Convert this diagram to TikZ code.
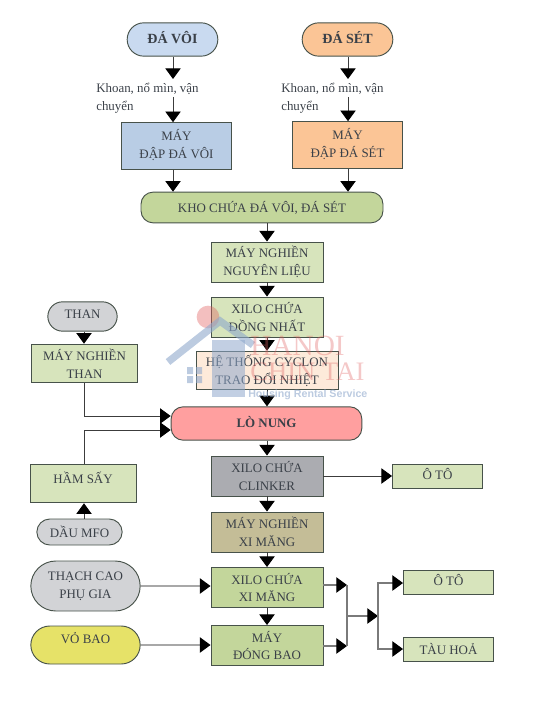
\documentclass[tikz,border=0pt]{standalone}
\usepackage{fontspec}
\setmainfont{Liberation Serif}
\newfontfamily\wmsans{Liberation Sans}
\usetikzlibrary{calc,positioning,arrows.meta,shapes.misc}
\definecolor{txt}{HTML}{3A4048}
\definecolor{edgecol}{HTML}{47524A}
\definecolor{lineco}{HTML}{3C3C3C}
\definecolor{linegrey}{HTML}{7A7A7A}
\definecolor{bluepale}{HTML}{C9DAF0}
\definecolor{bluebox}{HTML}{B9CDE5}
\definecolor{orangebox}{HTML}{FBC596}
\definecolor{greenbox}{HTML}{C3D69B}
\definecolor{greenpale}{HTML}{D7E4BC}
\definecolor{peachbox}{HTML}{FDEADA}
\definecolor{redbox}{HTML}{FF9F9F}
\definecolor{greybox}{HTML}{D2D3D6}
\definecolor{clinkerbox}{HTML}{ABACB1}
\definecolor{brownbox}{HTML}{C4BD97}
\definecolor{yellowbox}{HTML}{E6E268}
\definecolor{wmblue}{HTML}{8FA8CC}
\definecolor{wmred}{HTML}{E06060}
\begin{document}
\begin{tikzpicture}[x=0.75pt,y=-0.75pt,>={Triangle[length=8pt,width=11.5pt,color=black]},
  every node/.style={font=\fontsize{9.7}{13.3}\selectfont,text=txt},
  rect/.style={rectangle,draw=edgecol,line width=0.7pt,align=center,inner sep=0pt},
  pill/.style={rectangle,rounded corners=9pt,draw=edgecol,line width=0.7pt,align=center,inner sep=0pt},
  round/.style={rounded rectangle,draw=edgecol,line width=0.7pt,align=center,inner sep=0pt},
  midbox/.style={rect,minimum width=84pt,minimum height=30pt},
  endbox/.style={rect,fill=greenpale,minimum width=67.5pt,minimum height=18pt},
  flow/.style={->,draw=lineco,line width=0.7pt},
  flowgrey/.style={->,draw=linegrey,line width=0.9pt},
  link/.style={draw=linegrey,line width=0.9pt}]
  \useasboundingbox (0,0) rectangle (534,705);
  % top row
  \node[round,fill=bluepale,minimum width=68pt,minimum height=25pt,text depth=3pt,font=\fontsize{10.5}{13.5}\selectfont\bfseries] (davoi) at (172.5,39.5) {ĐÁ VÔI};
  \node[round,fill=orangebox,minimum width=68pt,minimum height=25pt,text depth=3pt,font=\fontsize{10.5}{13.5}\selectfont\bfseries] (daset) at (347.5,39.5) {ĐÁ SÉT};
  \node[align=left,inner xsep=0pt,inner ysep=3pt,anchor=north west] (khoanvoi) at (96,79) {Khoan, nổ mìn, vận\\chuyển};
  \node[align=left,inner xsep=0pt,inner ysep=3pt,anchor=north west] (khoanset) at (281,79) {Khoan, nổ mìn, vận\\chuyển};
  \coordinate (tiepvoi) at (173,97);
  \coordinate (tiepset) at (348,97);
  \node[rect,fill=bluebox,minimum width=82pt,minimum height=35pt] (dapvoi) at (176.5,146) {MÁY\\ĐẬP ĐÁ VÔI\\[-10pt]};
  \node[rect,fill=orangebox,minimum width=82pt,minimum height=35pt] (dapset) at (347.5,145) {MÁY\\ĐẬP ĐÁ SÉT\\[-10pt]};
  \node[pill,fill=greenbox,minimum width=181.5pt,minimum height=23pt] (kho) at (262,207.5) {KHO CHỨA ĐÁ VÔI, ĐÁ SÉT};
  % middle column
  \node[midbox,fill=greenpale] (nghiennl) at (267,262) {MÁY NGHIỀN\\NGUYÊN LIỆU};
  \node[midbox,fill=greenpale] (xilodn) at (267,317) {XILO CHỨA\\ĐỒNG NHẤT};
  \node[rect,fill=peachbox,minimum width=106.5pt,minimum height=29pt] (cyclon) at (267,370.5) {HỆ THỐNG CYCLON\\TRAO ĐỔI NHIỆT};
  \node[pill,fill=redbox,minimum width=143pt,minimum height=25pt,text depth=3pt,font=\fontsize{9.7}{13.5}\selectfont\bfseries] (lonung) at (266.5,423.5) {LÒ NUNG};
  \node[midbox,fill=clinkerbox] (clinker) at (267,476) {XILO CHỨA\\CLINKER};
  \node[midbox,fill=brownbox] (nghienxm) at (267,532) {MÁY NGHIỀN\\XI MĂNG};
  \node[midbox,fill=greenbox] (xiloxm) at (267,587.5) {XILO CHỨA\\XI MĂNG};
  \node[midbox,fill=greenbox] (dongbao) at (267,645.5) {MÁY\\ĐÓNG BAO};
  % left column
  \coordinate (trucx) at (84,0);
  \node[round,fill=greybox,minimum width=52pt,minimum height=22pt,text depth=3pt] (than) at (82.5,316.5) {THAN};
  \node[rect,fill=greenpale,minimum width=79pt,minimum height=29pt] (nghienthan) at (84.5,363.5) {MÁY NGHIỀN\\THAN};
  \node[rect,fill=greenpale,minimum width=79.5pt,minimum height=29pt,text depth=9pt] (hamsay) at (83,483.5) {HẦM SẤY};
  \node[round,fill=greybox,minimum width=64pt,minimum height=19.5pt] (daumfo) at (79.5,532) {DẦU MFO};
  \node[round,fill=greybox,minimum width=82pt,minimum height=37.5pt] (thachcao) at (85.5,586) {THẠCH CAO\\PHỤ GIA};
  \node[round,fill=yellowbox,minimum width=82pt,minimum height=28.5pt,text depth=10pt] (vobao) at (85.5,645) {VỎ BAO};
  % right column
  \node[endbox,text depth=3pt] (otoa) at (437.5,476) {Ô TÔ};
  \node[endbox,text depth=3pt] (otob) at (448.5,582) {Ô TÔ};
  \node[endbox,text depth=1pt] (tauhoa) at (448.5,649.5) {TÀU HOẢ};
  \coordinate (gopxm) at (347,585);
  \coordinate (gopbao) at (347,646);
  \coordinate (gop) at (347,616);
  \coordinate (chia) at (378,616);
  \coordinate (vaoxe) at (0,583);
  \coordinate (vaotau) at (0,649);
  % connectors
  \draw[flow] (davoi.south -| tiepvoi) -- (khoanvoi.north -| tiepvoi);
  \draw[flow] (daset.south -| tiepset) -- (khoanset.north -| tiepset);
  \draw[flow] (tiepvoi) -- (dapvoi.north -| tiepvoi);
  \draw[flow] (tiepset) -- (dapset.north -| tiepset);
  \draw[flow] (dapvoi.south -| tiepvoi) -- (kho.north -| tiepvoi);
  \draw[flow] (dapset.south -| tiepset) -- (kho.north -| tiepset);
  \draw[flow] (kho.south -| nghiennl) -- (nghiennl);
  \draw[flow] (nghiennl) -- (xilodn);
  \draw[flow] (xilodn) -- (cyclon);
  \draw[flow] (cyclon) -- (lonung.north -| cyclon);
  \draw[flow] (lonung.south -| clinker) -- (clinker);
  \draw[flow] (clinker) -- (nghienxm);
  \draw[flow] (nghienxm) -- (xiloxm);
  \draw[flow] (xiloxm) -- (dongbao);
  \draw[flow] (than.south -| trucx) -- (nghienthan.north -| trucx);
  \draw[flow] (nghienthan.south -| trucx) |- ($(lonung.west)+(0,-7.5)$);
  \draw[flow] (hamsay.north -| trucx) |- ($(lonung.west)+(0,6.5)$);
  \draw[flow] (daumfo.north -| trucx) -- (hamsay.south -| trucx);
  \draw[flow] (clinker) -- (otoa);
  \draw[flowgrey] (thachcao) -- (xiloxm.west |- thachcao);
  \draw[flowgrey] (vobao) -- (dongbao.west |- vobao);
  \draw[flowgrey] (xiloxm.east |- gopxm) -- (gopxm);
  \draw[flowgrey] (dongbao.east |- gopbao) -- (gopbao);
  \draw[link] (gopxm) -- (gopbao);
  \draw[flowgrey] (gop) -- (chia);
  \draw[flowgrey] (chia) |- (otob.west |- vaoxe);
  \draw[flowgrey] (chia) |- (tauhoa.west |- vaotau);
  % watermark
  \fill[wmred,opacity=0.4] (208,317) circle (8.5pt);
  \fill[wmblue,opacity=0.55] (212,340) rectangle (245,397);
  \draw[wmblue,opacity=0.6,line width=5.5pt] (168,362) -- (220,321) -- (253,345);
  \fill[wmblue,opacity=0.6] (187,367) rectangle (193,374) (196,367) rectangle (202,374) (187,376) rectangle (193,383) (196,376) rectangle (202,383);
  \node[opacity=0.35,text=wmred,inner sep=0pt,anchor=base west,font=\fontsize{22}{22}\selectfont] (wmhanoi) at (250,355) {HANOI};
  \node[opacity=0.35,text=wmred,inner sep=0pt,anchor=base west,font=\fontsize{20}{20}\selectfont] (wmchintai) at (250,380) {CHIN TAI};
  \node[opacity=0.6,text=wmblue,inner sep=0pt,anchor=base west,font=\fontsize{8}{8}\selectfont\wmsans\bfseries] (wmservice) at (248,397) {Housing Rental Service};
\end{tikzpicture}
\end{document}
